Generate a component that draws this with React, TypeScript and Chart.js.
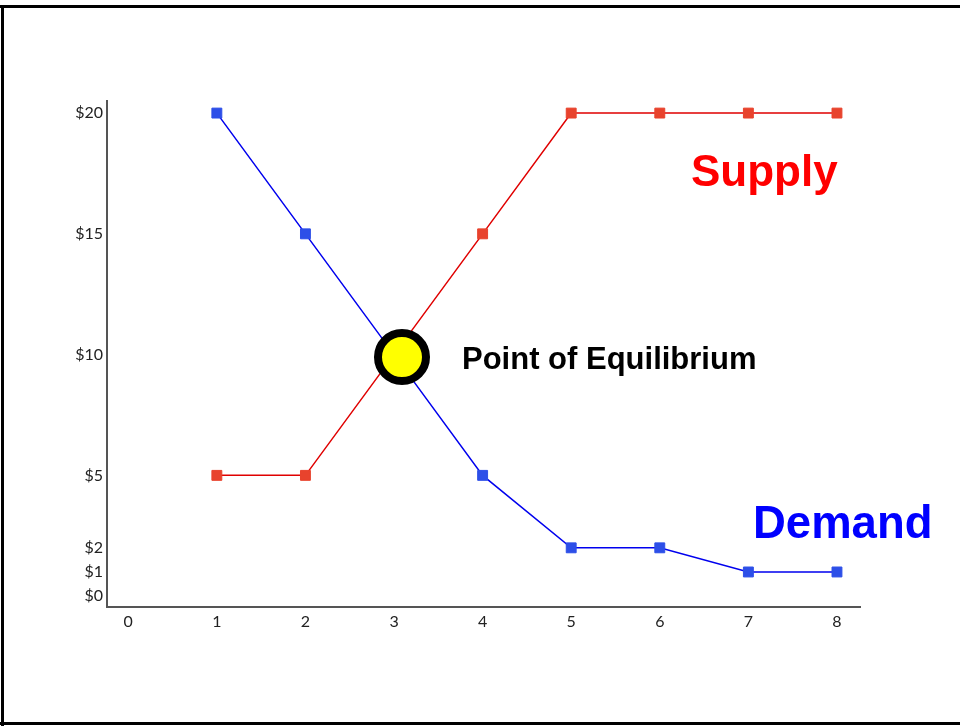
import React, { useEffect, useRef } from "react";
import { Chart, registerables } from "chart.js";

Chart.register(...registerables);

const quantities = [1, 2, 3, 4, 5, 6, 7, 8];
const demandPrices = [20, 15, 10, 5, 2, 2, 1, 1];
const supplyPrices = [5, 5, 10, 15, 20, 20, 20, 20];
const equilibriumQ = [3.09];
const equilibriumP = [9.9];
const xTickValues = [0, 1, 2, 3, 4, 5, 6, 7, 8];
const yTickValues = [0, 1, 2, 5, 10, 15, 20];

const overlayPlugin = {
  id: "overlay",
  beforeDraw(chart: any) {
    const ctx = chart.ctx;
    ctx.save();
    ctx.fillStyle = "#ffffff";
    ctx.fillRect(0, 0, chart.width, chart.height);
    ctx.fillStyle = "#000000";
    ctx.fillRect(0, 5, chart.width, 3);
    ctx.fillRect(1, 5, 3, 721);
    ctx.fillRect(0, 722, chart.width, 3);
    ctx.restore();
  },
  afterDraw(chart: any) {
    const ctx = chart.ctx;
    ctx.save();
    ctx.textBaseline = "alphabetic";
    ctx.textAlign = "left";
    ctx.font = "bold 44px 'Liberation Sans', Arial, sans-serif";
    ctx.fillStyle = "#ff0000";
    ctx.fillText("Supply", 691, 186);
    ctx.font = "bold 45.5px 'Liberation Sans', Arial, sans-serif";
    ctx.fillStyle = "#0000ff";
    ctx.fillText("Demand", 753, 538);
    ctx.font = "bold 31px 'Liberation Sans', Arial, sans-serif";
    ctx.fillStyle = "#000000";
    ctx.fillText("Point of Equilibrium", 462, 369);
    ctx.restore();
  },
};

export default function App() {
  const ref = useRef<HTMLCanvasElement>(null);
  useEffect(() => {
    if (!ref.current) return;
    const chart = new Chart(ref.current, {
      type: "line",
      data: {
        datasets: [
          {
            label: "Equilibrium",
            data: equilibriumQ.map((q, i) => ({ x: q, y: equilibriumP[i] })),
            showLine: false,
            pointStyle: "circle",
            pointRadius: 24,
            pointBorderWidth: 8,
            pointBackgroundColor: "#ffff00",
            pointBorderColor: "#000000",
            order: -1,
          },
          {
            label: "Demand",
            data: quantities.map((q, i) => ({ x: q, y: demandPrices[i] })),
            borderColor: "#0000ee",
            borderWidth: 1.5,
            pointStyle: "rect",
            pointRadius: 7,
            pointBorderWidth: 1,
            pointBackgroundColor: "#2d4fe8",
            pointBorderColor: "#2d4fe8",
            tension: 0,
          },
          {
            label: "Supply",
            data: quantities.map((q, i) => ({ x: q, y: supplyPrices[i] })),
            borderColor: "#e00000",
            borderWidth: 1.5,
            pointStyle: "rect",
            pointRadius: 7,
            pointBorderWidth: 1,
            pointBackgroundColor: "#e8432d",
            pointBorderColor: "#e8432d",
            tension: 0,
          },
        ],
      },
      options: {
        animation: false,
        responsive: false,
        devicePixelRatio: 1,
        layout: { padding: { left: 57, top: 101, right: 100, bottom: 89 } },
        plugins: { legend: { display: false }, tooltip: { enabled: false } },
        scales: {
          x: {
            type: "linear",
            min: -0.24,
            max: 8.26,
            afterFit: (s: any) => {
              s.height = 30;
            },
            afterBuildTicks: (s: any) => {
              s.ticks = xTickValues.map((v) => ({ value: v }));
            },
            grid: { display: true, drawOnChartArea: false, drawTicks: false },
            border: { display: true, color: "#555555", width: 2 },
            ticks: {
              padding: 5,
              color: "#222222",
              font: { family: "Lato, 'Liberation Sans', sans-serif", size: 16 },
              callback: (v: any) => String(v),
            },
          },
          y: {
            type: "linear",
            min: -0.45,
            max: 20.5,
            afterFit: (s: any) => {
              s.width = 50;
            },
            afterBuildTicks: (s: any) => {
              s.ticks = yTickValues.map((v) => ({ value: v }));
            },
            grid: { display: true, drawOnChartArea: false, drawTicks: false },
            border: { display: true, color: "#555555", width: 2 },
            ticks: {
              padding: 4,
              color: "#222222",
              font: { family: "Lato, 'Liberation Sans', sans-serif", size: 16 },
              callback: (v: any) => "$" + v,
            },
          },
        },
      },
      plugins: [overlayPlugin],
    });
    return () => chart.destroy();
  }, []);
  return (
    <div style={{ position: "fixed", left: 0, top: 0, width: 960, height: 726 }}>
      <canvas ref={ref} width={960} height={726} style={{ display: "block" }} />
    </div>
  );
}
